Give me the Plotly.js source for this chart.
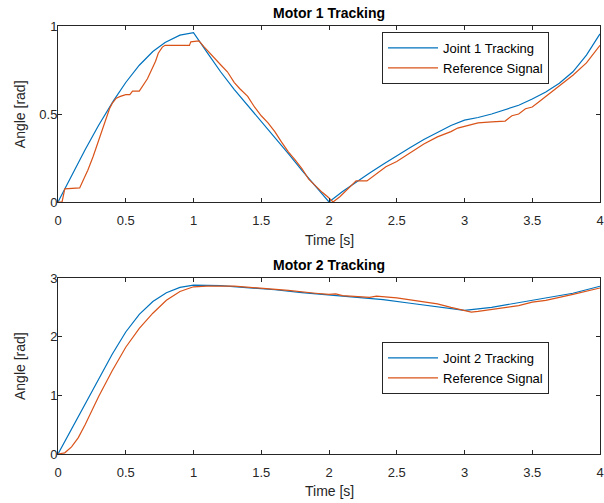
<!DOCTYPE html>
<html>
<head>
<meta charset="utf-8">
<script src="https://cdn.plot.ly/plotly-3.0.1.min.js"></script>
<style>html,body{margin:0;padding:0;background:#fff;}#chart{width:604px;height:503px;}</style>
</head>
<body>
<div id="chart"></div>
<script>
// Motor 1 - joint tracking (blue)
const t1Joint = [0, 0.1, 0.2, 0.3, 0.41, 0.5, 0.6, 0.7, 0.79, 0.9, 1.0, 1.1, 1.2, 1.3, 1.4, 1.5, 1.6, 1.7, 1.8, 1.9, 2.0, 2.1, 2.2, 2.3, 2.4, 2.5, 2.6, 2.7, 2.8, 2.9, 3.0, 3.1, 3.2, 3.3, 3.4, 3.5, 3.6, 3.7, 3.8, 3.9, 4.0];
const v1Joint = [0, 0.15, 0.297, 0.436, 0.576, 0.679, 0.777, 0.855, 0.906, 0.948, 0.962, 0.85, 0.74, 0.64, 0.55, 0.46, 0.37, 0.275, 0.18, 0.09, 0, 0.06, 0.115, 0.165, 0.215, 0.265, 0.31, 0.355, 0.395, 0.435, 0.465, 0.48, 0.50, 0.525, 0.55, 0.585, 0.625, 0.675, 0.74, 0.835, 0.955];
// Motor 1 - reference signal (orange)
const t1Ref = [0, 0.03, 0.05, 0.16, 0.19, 0.22, 0.26, 0.30, 0.345, 0.38, 0.40, 0.43, 0.46, 0.50, 0.53, 0.55, 0.60, 0.63, 0.66, 0.69, 0.72, 0.74, 0.77, 0.79, 0.97, 0.98, 1.04, 1.08, 1.12, 1.16, 1.2, 1.25, 1.3, 1.34, 1.4, 1.45, 1.5, 1.55, 1.6, 1.65, 1.7, 1.75, 1.8, 1.85, 1.9, 1.95, 1.99, 2.03, 2.08, 2.13, 2.2, 2.28, 2.35, 2.42, 2.5, 2.6, 2.7, 2.8, 2.9, 2.95, 3.0, 3.05, 3.1, 3.2, 3.3, 3.35, 3.4, 3.45, 3.5, 3.55, 3.6, 3.7, 3.8, 3.9, 4.0];
const v1Ref = [0, 0, 0.075, 0.08, 0.13, 0.18, 0.26, 0.35, 0.46, 0.53, 0.56, 0.59, 0.60, 0.61, 0.61, 0.63, 0.63, 0.665, 0.70, 0.75, 0.80, 0.845, 0.88, 0.89, 0.89, 0.91, 0.915, 0.88, 0.845, 0.81, 0.78, 0.74, 0.68, 0.645, 0.60, 0.54, 0.49, 0.45, 0.40, 0.34, 0.285, 0.24, 0.19, 0.13, 0.09, 0.055, 0.03, 0, 0.03, 0.07, 0.12, 0.12, 0.16, 0.20, 0.23, 0.28, 0.33, 0.37, 0.40, 0.42, 0.43, 0.44, 0.45, 0.455, 0.46, 0.49, 0.50, 0.53, 0.54, 0.57, 0.60, 0.655, 0.72, 0.79, 0.89];
// Motor 2 - joint tracking (blue)
const t2Joint = [0, 0.1, 0.2, 0.3, 0.4, 0.5, 0.6, 0.7, 0.8, 0.9, 1.0, 1.2, 1.4, 1.6, 1.8, 2.0, 2.2, 2.4, 2.6, 2.8, 3.0, 3.2, 3.4, 3.6, 3.8, 4.0];
const v2Joint = [0, 0.42, 0.86, 1.28, 1.70, 2.08, 2.38, 2.60, 2.75, 2.84, 2.88, 2.87, 2.84, 2.80, 2.75, 2.71, 2.67, 2.63, 2.57, 2.51, 2.45, 2.50, 2.58, 2.66, 2.74, 2.86];
// Motor 2 - reference signal (orange)
const t2Ref = [0, 0.05, 0.1, 0.15, 0.2, 0.3, 0.4, 0.5, 0.6, 0.7, 0.8, 0.9, 1.0, 1.1, 1.3, 1.5, 1.7, 1.9, 2.0, 2.05, 2.1, 2.3, 2.35, 2.5, 2.6, 2.7, 2.8, 2.9, 3.0, 3.05, 3.1, 3.2, 3.4, 3.5, 3.6, 3.8, 4.0];
const v2Ref = [0, 0.02, 0.12, 0.28, 0.50, 0.98, 1.42, 1.82, 2.14, 2.40, 2.62, 2.77, 2.85, 2.86, 2.86, 2.83, 2.79, 2.74, 2.72, 2.73, 2.70, 2.67, 2.69, 2.66, 2.63, 2.60, 2.56, 2.50, 2.44, 2.42, 2.43, 2.46, 2.53, 2.59, 2.62, 2.72, 2.83];

const xTicks = [0, 0.5, 1, 1.5, 2, 2.5, 3, 3.5, 4];
const xTickText = ['0', '0.5', '1', '1.5', '2', '2.5', '3', '3.5', '4'];
const y1Ticks = [0, 0.5, 1];
const y2Ticks = [0, 1, 2, 3];
const names1 = ['Joint 1 Tracking', 'Reference Signal'];
const names2 = ['Joint 2 Tracking', 'Reference Signal'];
const titles = ['Motor 1 Tracking', 'Motor 2 Tracking'];

const BLUE = '#0072BD', ORANGE = '#D95319', AX = '#262626';
const FONT = 'Liberation Sans, Arial, sans-serif';

const traces = [
  {x: t1Joint, y: v1Joint, name: names1[0], mode: 'lines', line: {color: BLUE, width: 1.2}, xaxis: 'x', yaxis: 'y', legend: 'legend'},
  {x: t1Ref, y: v1Ref, name: names1[1], mode: 'lines', line: {color: ORANGE, width: 1.2}, xaxis: 'x', yaxis: 'y', legend: 'legend'},
  {x: t2Joint, y: v2Joint, name: names2[0], mode: 'lines', line: {color: BLUE, width: 1.2}, xaxis: 'x2', yaxis: 'y2', legend: 'legend2'},
  {x: t2Ref, y: v2Ref, name: names2[1], mode: 'lines', line: {color: ORANGE, width: 1.2}, xaxis: 'x2', yaxis: 'y2', legend: 'legend2'}
];

function xax(anchor) {
  return {anchor: anchor, range: [0, 4], tickvals: xTicks, ticktext: xTickText, ticks: 'inside', ticklen: 4,
    tickcolor: AX, showline: true, linecolor: AX, linewidth: 1, mirror: 'ticks', showgrid: false, zeroline: false,
    tickfont: {family: FONT, size: 13, color: AX}, ticklabelstandoff: 6, ticklabeloverflow: 'allow', fixedrange: true};
}
function yax(anchor, domain, range, ticks) {
  return {anchor: anchor, domain: domain, range: range, tickvals: ticks, ticks: 'inside', ticklen: 4,
    tickcolor: AX, showline: true, linecolor: AX, linewidth: 1, mirror: 'ticks', showgrid: false, zeroline: false,
    tickfont: {family: FONT, size: 13, color: AX}, ticklabelstandoff: -3, fixedrange: true};
}
const legendStyle = {bgcolor: '#ffffff', bordercolor: AX, borderwidth: 1, font: {family: FONT, size: 13, color: '#000'},
  xanchor: 'left', yanchor: 'top', tracegroupgap: 0, itemwidth: 50};

const layout = {
  width: 604, height: 503,
  margin: {l: 58, r: 4, t: 26, b: 49},
  paper_bgcolor: '#ffffff', plot_bgcolor: '#ffffff',
  font: {family: FONT, size: 13, color: AX},
  showlegend: true,
  xaxis: xax('y'),
  yaxis: yax('x', [0.5888, 1], [0, 1], y1Ticks),
  xaxis2: xax('y2'),
  yaxis2: yax('x2', [0, 0.4112], [0, 3], y2Ticks),
  legend: Object.assign({x: 0.5978, y: 0.986}, legendStyle),
  legend2: Object.assign({x: 0.5978, y: 0.2617}, legendStyle),
  annotations: [
    {text: '<b>' + titles[0] + '</b>', xref: 'paper', yref: 'paper', x: 0.5, y: 1.0304, showarrow: false, xanchor: 'center', yanchor: 'middle', font: {family: FONT, size: 14, color: '#000'}},
    {text: '<b>' + titles[1] + '</b>', xref: 'paper', yref: 'paper', x: 0.5, y: 0.4416, showarrow: false, xanchor: 'center', yanchor: 'middle', font: {family: FONT, size: 14, color: '#000'}},
    {text: 'Time [s]', xref: 'paper', yref: 'paper', x: 0.5, y: 0.5, showarrow: false, xanchor: 'center', yanchor: 'middle', font: {family: FONT, size: 14, color: AX}},
    {text: 'Time [s]', xref: 'paper', yref: 'paper', x: 0.5, y: -0.0864, showarrow: false, xanchor: 'center', yanchor: 'middle', font: {family: FONT, size: 14, color: AX}},
    {text: 'Angle [rad]', xref: 'paper', yref: 'paper', x: -0.0701, y: 0.794, showarrow: false, textangle: -90, xanchor: 'center', yanchor: 'middle', font: {family: FONT, size: 14, color: AX}},
    {text: 'Angle [rad]', xref: 'paper', yref: 'paper', x: -0.0701, y: 0.2056, showarrow: false, textangle: -90, xanchor: 'center', yanchor: 'middle', font: {family: FONT, size: 14, color: AX}}
  ]
};

Plotly.newPlot('chart', traces, layout, {displayModeBar: false, staticPlot: true});
</script>
</body>
</html>
